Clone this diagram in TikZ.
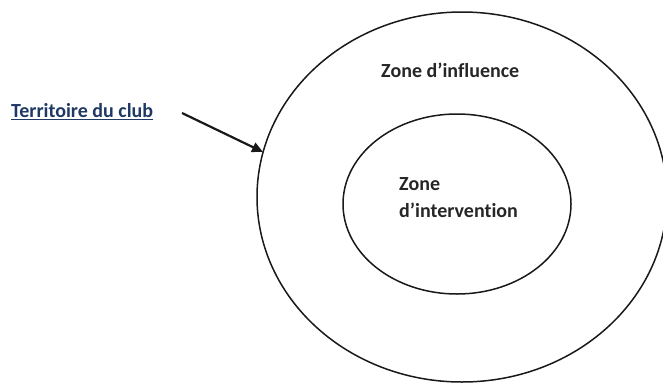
\documentclass[tikz,border=0pt]{standalone}
\usepackage{fontspec}
\setmainfont{Carlito}[Ligatures={NoCommon}]
\usetikzlibrary{arrows.meta}
\definecolor{linkblue}{RGB}{31,56,100}
\tikzset{
  zone/.style={draw=black!90, line width=1.5pt},
  lbl/.style={font=\bfseries\fontsize{20}{24}\selectfont, text=black!85, inner sep=0pt, anchor=west},
  pointer/.style={draw=black!90, line width=2.2pt, -{Triangle[length=11pt,width=10pt]}}
}
\begin{document}
\begin{tikzpicture}[x=1pt,y=-1pt]
\useasboundingbox (0,0) rectangle (663,383);
\clip (0,0) rectangle (663,383);
\draw[zone] (462,197) ellipse [x radius=205, y radius=185];
\draw[zone] (457,204) ellipse [x radius=114, y radius=90];
\node[lbl] (influence) at (381,70) {Zone d’influence};
\node[lbl, align=left] (intervention) at (399,198) {Zone\\[3pt]d’intervention};
\node[lbl, text=linkblue] (territoire) at (11,112) {\underline{Territoire du club}};
\coordinate (target) at (263,152);
\coordinate (start) at (182,113);
\draw[pointer] (start) -- (target);
\end{tikzpicture}
\end{document}
